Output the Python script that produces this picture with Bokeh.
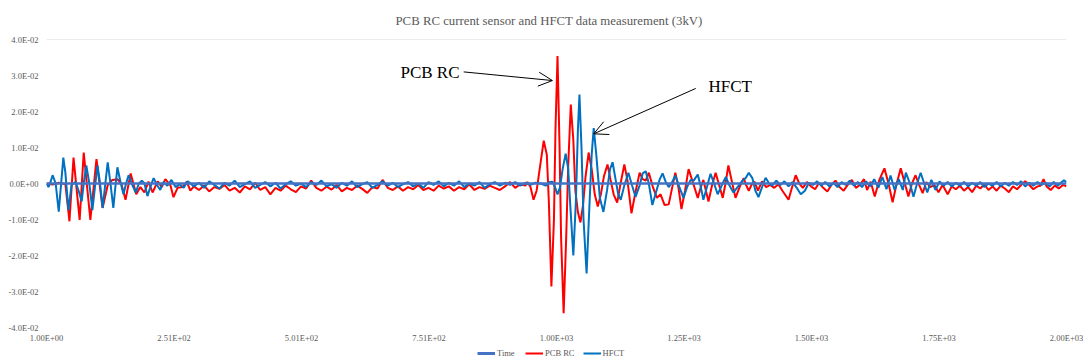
from bokeh.plotting import figure
from bokeh.models import (Range1d, FixedTicker, Span, Label, Arrow, OpenHead,
                          Legend, LegendItem)
from bokeh.layouts import column
from bokeh.embed import file_html
from bokeh.resources import INLINE

# ---------------- data ----------------
x_ticks = [1, 251, 501, 751, 1001, 1251, 1501, 1751, 2001]
x_tick_labels = ["1.00E+00", "2.51E+02", "5.01E+02", "7.51E+02", "1.00E+03",
                 "1.25E+03", "1.50E+03", "1.75E+03", "2.00E+03"]
y_ticks = [-0.04, -0.03, -0.02, -0.01, 0.0, 0.01, 0.02, 0.03, 0.04]
y_tick_labels = ["-4.0E-02", "-3.0E-02", "-2.0E-02", "-1.0E-02", "0.0E+00",
                 "1.0E-02", "2.0E-02", "3.0E-02", "4.0E-02"]
series_names = ["Time", "PCB RC", "HFCT"]

time_idx = [1, 2001]
time_val = [0.0, 0.0]

red_idx = [1, 13, 25, 38, 46, 54, 66, 74, 87, 99, 111, 121, 130, 140, 148, 156, 166, 177,
           185, 193, 201, 209, 219, 227, 234, 244, 250, 258, 268, 276, 283,
           290, 300, 310, 320, 330, 340, 350, 360, 370, 380, 390, 400, 410, 420, 430, 440,
           450, 460, 470, 480, 490, 500, 510, 520, 530, 540, 550, 560, 570, 580, 590, 600,
           610, 620, 630, 640, 650, 660, 670, 680, 690, 700, 710, 720, 730, 740, 750, 760,
           770, 780, 790, 800, 810, 820, 830, 840, 850, 860, 870, 880, 890, 900, 910, 920,
           930, 940, 944, 950, 956, 962, 968, 976, 982, 986, 991, 996, 999, 1003, 1007, 1010,
           1015, 1020, 1024, 1029, 1034, 1038, 1043, 1048, 1053, 1058, 1064, 1070, 1076, 1082,
           1088, 1094, 1101, 1107, 1113, 1120, 1126, 1134, 1140, 1148, 1155, 1164, 1170, 1176,
           1182, 1190, 1198, 1205, 1213, 1221, 1228, 1234, 1240, 1246, 1253, 1260, 1268, 1278,
           1284, 1289, 1294, 1299, 1306, 1313, 1320, 1327, 1333, 1338, 1345, 1352, 1360, 1368,
           1373, 1378, 1384, 1389, 1396, 1404, 1412, 1420, 1428, 1436, 1444, 1456, 1463, 1470,
           1477, 1484, 1492, 1500, 1508, 1516, 1524, 1532, 1540, 1548, 1556, 1564, 1572, 1580,
           1588, 1596, 1604, 1610, 1617, 1625, 1634, 1644, 1652, 1660, 1668, 1676, 1684, 1691,
           1698, 1705, 1712, 1719, 1726, 1734, 1742, 1750, 1758, 1768, 1776, 1784, 1792, 1800,
           1808, 1816, 1824, 1832, 1840, 1848, 1856, 1864, 1872, 1880, 1888, 1896, 1904, 1912,
           1920, 1928, 1936, 1944, 1950, 1956, 1962, 1970, 1978, 1986, 1994, 2001]
red_val = [0.0, -0.0003, 0.0002, -0.0002, -0.0105, 0.0072, -0.0101, 0.0086, -0.0101, 0.0068,
           -0.0068, -0.0005, 0.0010, 0.0012, -0.0002, -0.0045, 0.0028, -0.0030,
           -0.0010, -0.0025, 0.0005, -0.0025, 0.0006, -0.0010, 0.0012, -0.0005, -0.0038,
           -0.0012, -0.0010, 0.0005, -0.0020,
           -0.0008, -0.0018, -0.0006, -0.0022, -0.0010, -0.0015, -0.0004, -0.0020, -0.0012,
           -0.0025, -0.0008, -0.0016, 0.0002, -0.0018, -0.0010, -0.0030,
           -0.0012, -0.0020, -0.0006, -0.0016, -0.0024, -0.0008, -0.0014, 0.0008, -0.0012,
           -0.0020, -0.0009, -0.0017, -0.0004, -0.0022, -0.0012, -0.0018,
           -0.0006, -0.0015, -0.0026, -0.0010, -0.0014, 0.0010, -0.0012, -0.0018, -0.0008,
           -0.0020, -0.0010, -0.0016, -0.0004, -0.0018, -0.0012, -0.0020,
           -0.0006, -0.0014, -0.0008, -0.0020, -0.0010, -0.0016, -0.0002, -0.0018, -0.0010,
           -0.0015, -0.0006, -0.0012, -0.0018, -0.0008, 0.0004, -0.0012,
           -0.0002, -0.0006, 0.0004, -0.0010, -0.0045, -0.0020, 0.0040, 0.0119, 0.0080,
           -0.0050, -0.0286, -0.0100, 0.0150, 0.0354, 0.0100, -0.0150,
           -0.0360, -0.0150, 0.0050, 0.0219, 0.0120, -0.0020, -0.0080, -0.0108, -0.0060,
           0.0020, 0.0086, 0.0040, -0.0030, -0.0064,
           -0.0030, 0.0020, 0.0053, 0.0010, -0.0030, -0.0053, -0.0005, 0.0053, 0.0010,
           -0.0083, -0.0030, 0.0030, 0.0012, 0.0008,
           0.0030, -0.0010, -0.0040, -0.0030, -0.0060, -0.0058, -0.0010, 0.0030, -0.0010,
           -0.0071, -0.0020, 0.0040, 0.0005, -0.0040,
           -0.0010, 0.0010, -0.0020, -0.0050, -0.0005, 0.0030, -0.0005, -0.0040, 0.0005,
           0.0050, 0.0005, -0.0040, -0.0010, 0.0015,
           -0.0005, -0.0020, -0.0002, 0.0005, -0.0020, 0.0006, -0.0010, -0.0004, -0.0012,
           -0.0002, -0.0020, -0.0045, -0.0010, 0.0023,
           0.0000, -0.0012, 0.0004, -0.0008, -0.0016, 0.0002, -0.0012, -0.0022, -0.0004,
           0.0008, -0.0010, -0.0020, -0.0004, 0.0010,
           -0.0012, -0.0004, 0.0012, -0.0018, 0.0005, -0.0036, 0.0010, 0.0042, 0.0000,
           -0.0052, 0.0000, 0.0042, 0.0000, -0.0036,
           0.0000, 0.0023, -0.0004, -0.0027, 0.0004, -0.0010, -0.0004, -0.0024, -0.0004,
           -0.0030, -0.0008, -0.0016, -0.0006, -0.0020,
           -0.0010, -0.0024, -0.0006, -0.0014, -0.0002, -0.0018, -0.0008, -0.0020, -0.0006,
           -0.0014, -0.0024, -0.0008, -0.0016, -0.0004,
           0.0006, -0.0004, -0.0016, -0.0008, -0.0006, 0.0012, -0.0008, -0.0018, -0.0006,
           -0.0014, -0.0004, -0.0008]

blue_idx = [1, 5, 9, 13, 19, 25, 34, 38, 44, 50, 58, 64, 70, 74, 79, 85, 91, 96, 101, 106,
            111, 116, 121, 126, 132, 136, 140, 146, 152, 157, 162, 168, 176, 182, 188, 193,
            199, 205, 211, 218, 224, 230, 238, 246, 254, 262, 270, 278,
            290, 300, 310, 320, 330, 340, 350, 360, 370, 380, 390, 400, 410, 420, 430, 440,
            450, 460, 470, 480, 490, 500, 510, 520, 530, 540, 550, 560, 570, 580, 590, 600,
            610, 620, 630, 640, 650, 660, 670, 680, 690, 700, 710, 720, 730, 740, 750, 760,
            770, 780, 790, 800, 810, 820, 830, 840, 850, 860, 870, 880, 890, 900, 910, 920,
            930, 940, 950, 960, 970, 980, 988, 993, 998, 1003, 1008, 1013, 1019, 1024, 1028,
            1034, 1039, 1043, 1046, 1050, 1054, 1060, 1065, 1070, 1074, 1079, 1086, 1093,
            1100, 1106, 1111, 1117, 1122, 1127, 1134, 1142, 1149, 1156, 1164, 1170, 1176,
            1182, 1189, 1197, 1203, 1209, 1215, 1221, 1228, 1234, 1242, 1250, 1257, 1264,
            1270, 1278, 1284, 1289, 1296, 1303, 1310, 1317, 1325, 1333, 1340, 1348, 1356,
            1364, 1372, 1378, 1385, 1391, 1397, 1404, 1411, 1418, 1424, 1432, 1440, 1448,
            1456, 1464, 1472, 1480, 1488, 1496, 1504, 1512, 1520, 1528, 1536, 1544, 1552,
            1560, 1568, 1576, 1584, 1592, 1600, 1608, 1616, 1624, 1632, 1640, 1648, 1656,
            1664, 1672, 1680, 1686, 1694, 1701, 1708, 1715, 1722, 1728, 1736, 1744, 1752,
            1760, 1768, 1776, 1784, 1792, 1800, 1808, 1816, 1824, 1832, 1840, 1848, 1856,
            1864, 1872, 1880, 1888, 1896, 1904, 1912, 1920, 1928, 1936, 1944, 1952, 1960,
            1968, 1976, 1984, 1990, 1996, 2001]
blue_val = [0.0, -0.0010, 0.0005, 0.0023, 0.0000, -0.0078, 0.0072, 0.0030, -0.0074, -0.0005,
            0.0005, -0.0020, -0.0050, 0.0000, 0.0050, 0.0000, -0.0074, -0.0010, 0.0050, 0.0000,
            -0.0068, -0.0005, 0.0059, 0.0005, -0.0068, -0.0010, 0.0045, 0.0005, -0.0030,
            0.0000, 0.0023, 0.0000, -0.0025, 0.0000, 0.0008, 0.0000,
            -0.0035, -0.0008, 0.0015, -0.0005, -0.0018, 0.0004, -0.0006, 0.0010, -0.0010,
            -0.0002, -0.0012, 0.0006,
            -0.0008, 0.0002, -0.0012, 0.0006, -0.0004, -0.0014, 0.0002, -0.0006, 0.0008,
            -0.0010, -0.0002, 0.0006, -0.0012, -0.0004, 0.0004, -0.0008,
            0.0002, -0.0014, -0.0002, 0.0006, -0.0006, 0.0000, -0.0010, 0.0004, -0.0004,
            0.0008, -0.0008, -0.0002, -0.0012, 0.0002, -0.0006, 0.0006,
            -0.0010, -0.0002, 0.0004, -0.0012, -0.0004, 0.0006, -0.0006, 0.0002, -0.0010,
            -0.0002, 0.0004, -0.0008, 0.0000, -0.0012, 0.0004, -0.0004,
            0.0006, -0.0008, 0.0002, -0.0006, 0.0006, -0.0010, 0.0000, -0.0006, 0.0004,
            -0.0012, -0.0002, 0.0004, -0.0006, 0.0002, -0.0004, 0.0004,
            -0.0006, 0.0002, -0.0004, 0.0002, 0.0000, -0.0006, 0.0004, 0.0005, -0.0010,
            -0.0030, -0.0010, 0.0040, 0.0083, 0.0040, -0.0060,
            -0.0200, -0.0050, 0.0150, 0.0247, 0.0100, -0.0100, -0.0250, -0.0080, 0.0080,
            0.0154, 0.0080, -0.0040, -0.0079,
            -0.0020, 0.0040, 0.0059, 0.0010, -0.0030, -0.0045, -0.0005, 0.0030, -0.0005,
            -0.0037, -0.0005, 0.0028, 0.0034,
            0.0000, -0.0060, -0.0020, 0.0010, 0.0028, 0.0005, -0.0010, 0.0005, 0.0022,
            -0.0010, -0.0040, -0.0010, 0.0010,
            0.0008, 0.0025, -0.0010, -0.0045, -0.0010, 0.0027, 0.0000, -0.0030, -0.0005,
            0.0018, -0.0005, -0.0025, -0.0010,
            0.0005, 0.0015, 0.0030, 0.0015, -0.0020, -0.0038, -0.0010, 0.0016, 0.0000,
            -0.0006, 0.0008, -0.0004, 0.0006,
            -0.0008, 0.0004, -0.0012, -0.0030, -0.0020, 0.0002, -0.0004, 0.0006, -0.0006,
            0.0004, -0.0008, 0.0002, -0.0010,
            0.0004, -0.0004, 0.0008, -0.0006, 0.0004, -0.0010, 0.0006, -0.0008, 0.0012,
            -0.0012, 0.0018, -0.0016, 0.0022,
            -0.0018, 0.0012, -0.0018, 0.0030, 0.0000, -0.0037, 0.0000, 0.0030, 0.0000,
            -0.0025, 0.0010, -0.0018, 0.0006,
            -0.0006, 0.0004, -0.0008, 0.0002, -0.0006, 0.0004, -0.0008, 0.0002, -0.0006,
            0.0004, -0.0010, 0.0000, -0.0006,
            0.0004, -0.0008, 0.0002, -0.0006, 0.0004, -0.0004, 0.0006, -0.0008, 0.0002,
            -0.0006, 0.0004, -0.0004, 0.0002,
            -0.0008, 0.0004, -0.0006, 0.0002, 0.0009, 0.0004]

# ---------------- styles ----------------
GRAY = "#595959"
SERIF = "Liberation Serif"
C_TIME, C_RED, C_BLUE = "#4472C4", "#FF0000", "#0070C0"

# ---------------- main chart ----------------
p = figure(width=1083, height=345, output_backend="svg", toolbar_location=None,
           x_range=Range1d(1, 2001), y_range=Range1d(-0.04, 0.04),
           min_border_left=46, min_border_right=17, min_border_top=37, min_border_bottom=15)
p.outline_line_color = None
p.background_fill_color = "white"
p.border_fill_color = "white"

p.title.text = "PCB RC current sensor and HFCT data measurement (3kV)"
p.title.align = "left"
p.title.offset = 349
p.title.text_font = SERIF
p.title.text_font_size = "12.8px"
p.title.text_font_style = "normal"
p.title.text_color = GRAY
p.title.standoff = 23

p.xgrid.visible = False
p.ygrid.visible = False
p.add_layout(Span(location=0.04, dimension="width", line_color="#D9D9D9", line_width=1))

for ax in (p.xaxis[0], p.yaxis[0]):
    ax.axis_line_color = None
    ax.major_tick_line_color = None
    ax.minor_tick_line_color = None
    ax.major_tick_out = 0
    ax.major_tick_in = 0
    ax.minor_tick_out = 0
    ax.minor_tick_in = 0
    ax.major_label_text_font = SERIF
    ax.major_label_text_font_size = "8.5px"
    ax.major_label_text_color = GRAY

p.xaxis.ticker = FixedTicker(ticks=x_ticks)
p.xaxis.major_label_overrides = dict(zip(x_ticks, x_tick_labels))
p.xaxis.major_label_standoff = 5
p.yaxis.ticker = FixedTicker(ticks=y_ticks)
p.yaxis.major_label_overrides = dict(zip(y_ticks, y_tick_labels))
p.yaxis.major_label_standoff = 8

p.line(red_idx, red_val, line_color=C_RED, line_width=2)
p.line(blue_idx, blue_val, line_color=C_BLUE, line_width=2)
p.line(time_idx, time_val, line_color=C_TIME, line_width=2.5)

# annotations
p.add_layout(Label(x=695, y=0.0307, text="PCB RC", text_font=SERIF, text_font_size="17px",
                   text_color="black", text_baseline="middle", text_align="left"))
p.add_layout(Arrow(x_start=819, y_start=0.0310, x_end=993, y_end=0.0286,
                   line_color="black", line_width=1,
                   end=OpenHead(size=14, line_color="black", line_width=1)))
p.add_layout(Label(x=1299, y=0.0269, text="HFCT", text_font=SERIF, text_font_size="17px",
                   text_color="black", text_baseline="middle", text_align="left"))
p.add_layout(Arrow(x_start=1274, y_start=0.0264, x_end=1074, y_end=0.0138,
                   line_color="black", line_width=1,
                   end=OpenHead(size=14, line_color="black", line_width=1)))

# ---------------- legend strip ----------------
q = figure(width=1083, height=16, output_backend="svg", toolbar_location=None,
           x_axis_location=None, y_axis_location=None, min_border=0,
           x_range=Range1d(0, 1), y_range=Range1d(0, 1))
q.outline_line_color = None
q.xgrid.visible = False
q.ygrid.visible = False
# legend sample renderers (kept outside the visible range of this strip)
lt = q.line([-5, -4], [-5, -5], line_color=C_TIME, line_width=3)
lr = q.line([-5, -4], [-5, -5], line_color=C_RED, line_width=2)
lb = q.line([-5, -4], [-5, -5], line_color=C_BLUE, line_width=2)
legend = Legend(items=[LegendItem(label=series_names[0], renderers=[lt]),
                       LegendItem(label=series_names[1], renderers=[lr]),
                       LegendItem(label=series_names[2], renderers=[lb])],
                orientation="horizontal", location=(431, 3),
                label_text_font=SERIF, label_text_font_size="8.5px", label_text_color=GRAY,
                glyph_width=18, glyph_height=10, label_height=10, label_standoff=2,
                spacing=8, padding=0, margin=0, border_line_color=None,
                background_fill_alpha=0)
q.add_layout(legend, "center")

open("out.html", "w").write(file_html(column(p, q, spacing=0), INLINE))
